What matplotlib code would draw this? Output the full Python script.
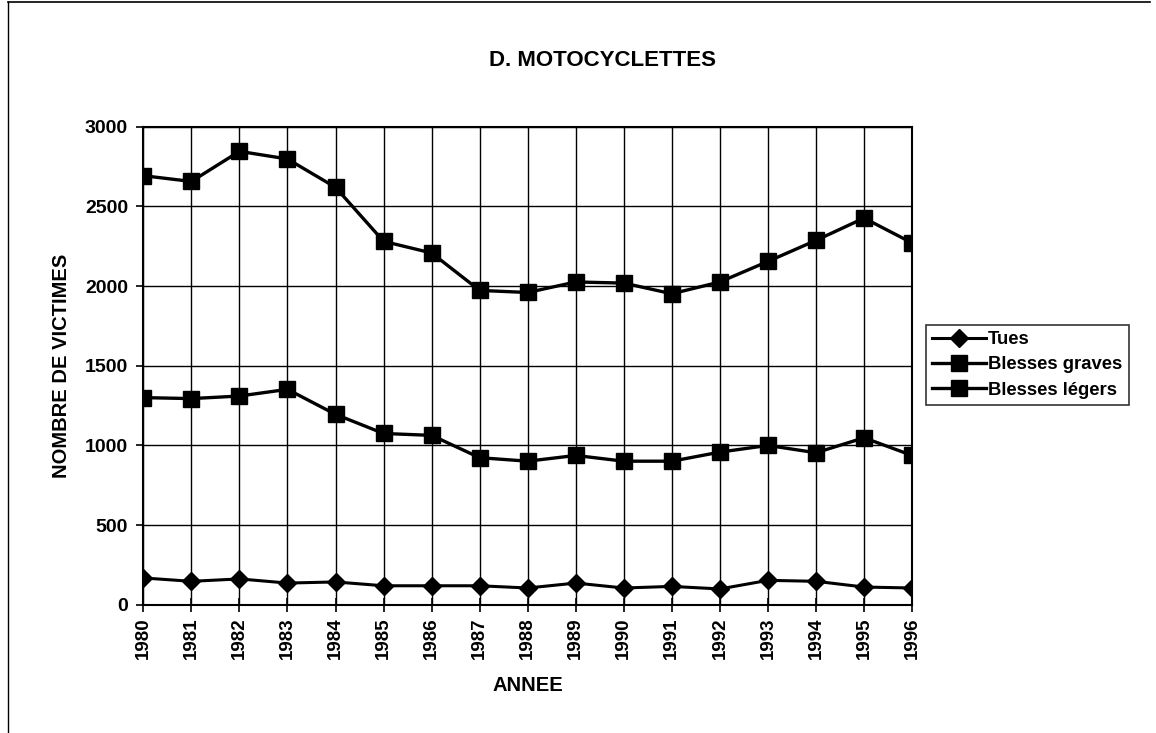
import numpy as np
import matplotlib.pyplot as plt
from matplotlib.lines import Line2D

plt.rcParams['font.family'] = ['Liberation Sans', 'DejaVu Sans']
plt.rcParams['font.weight'] = 'bold'

# Data
years = list(range(1980, 1997))
tues = [168, 147, 162, 136, 143, 119, 119, 119, 105, 136, 105, 115, 99, 153, 147, 111, 105]
graves = [1300, 1294, 1310, 1352, 1195, 1075, 1063, 923, 901, 937, 901, 901, 958, 1000, 954, 1048, 937]
legers = [2693, 2657, 2846, 2798, 2620, 2281, 2208, 1973, 1960, 2026, 2019, 1952, 2026, 2155, 2287, 2427, 2271]
labels = ['Tues', 'Blesses graves', 'Blesses légers']

fig = plt.figure(figsize=(11.56, 7.33), dpi=100)
ax = fig.add_axes([0.124, 0.175, 0.665, 0.652])

ax.plot(years, tues, color='black', lw=2.2, marker='D', ms=9, label=labels[0])
ax.plot(years, graves, color='black', lw=2.4, marker='s', ms=11, label=labels[1])
ax.plot(years, legers, color='black', lw=2.4, marker='s', ms=11, label=labels[2])

ax.set_xlim(1980, 1996)
ax.set_ylim(0, 3000)
ax.set_xticks(years)
ax.set_xticklabels([str(y) for y in years], rotation=90, fontsize=13.5, fontweight='bold')
ax.set_yticks(np.arange(0, 3001, 500))
ax.set_yticklabels([str(v) for v in range(0, 3001, 500)], fontsize=14, fontweight='bold')
ax.grid(True, color='black', lw=1.0)
ax.set_axisbelow(True)
for s in ax.spines.values():
    s.set_linewidth(1.5)
ax.tick_params(axis='x', direction='inout', length=10, width=1.2, pad=4)
ax.tick_params(axis='y', direction='out', length=5, width=1.2, pad=6)

ax.set_xlabel('ANNEE', fontsize=14.5, fontweight='bold', labelpad=12)
ax.set_ylabel('NOMBRE DE VICTIMES', fontsize=14.5, fontweight='bold', labelpad=10)
fig.text(0.521, 0.918, 'D. MOTOCYCLETTES', ha='center', va='center', fontsize=16, fontweight='bold')

leg = fig.legend(loc='upper left', bbox_to_anchor=(0.801, 0.557), frameon=True, fancybox=False,
                 edgecolor='black', fontsize=13.3, handlelength=2.9, handletextpad=0.1,
                 borderpad=0.35, labelspacing=0.45, borderaxespad=0)
leg.get_frame().set_linewidth(1.2)

# outer chart border (top and left visible)
fig.add_artist(Line2D([0.007, 0.995], [0.997, 0.997], color='black', lw=1.2, transform=fig.transFigure))
fig.add_artist(Line2D([0.007, 0.007], [0.0, 0.997], color='black', lw=1.0, transform=fig.transFigure))

fig.savefig('out.png', dpi=100)
